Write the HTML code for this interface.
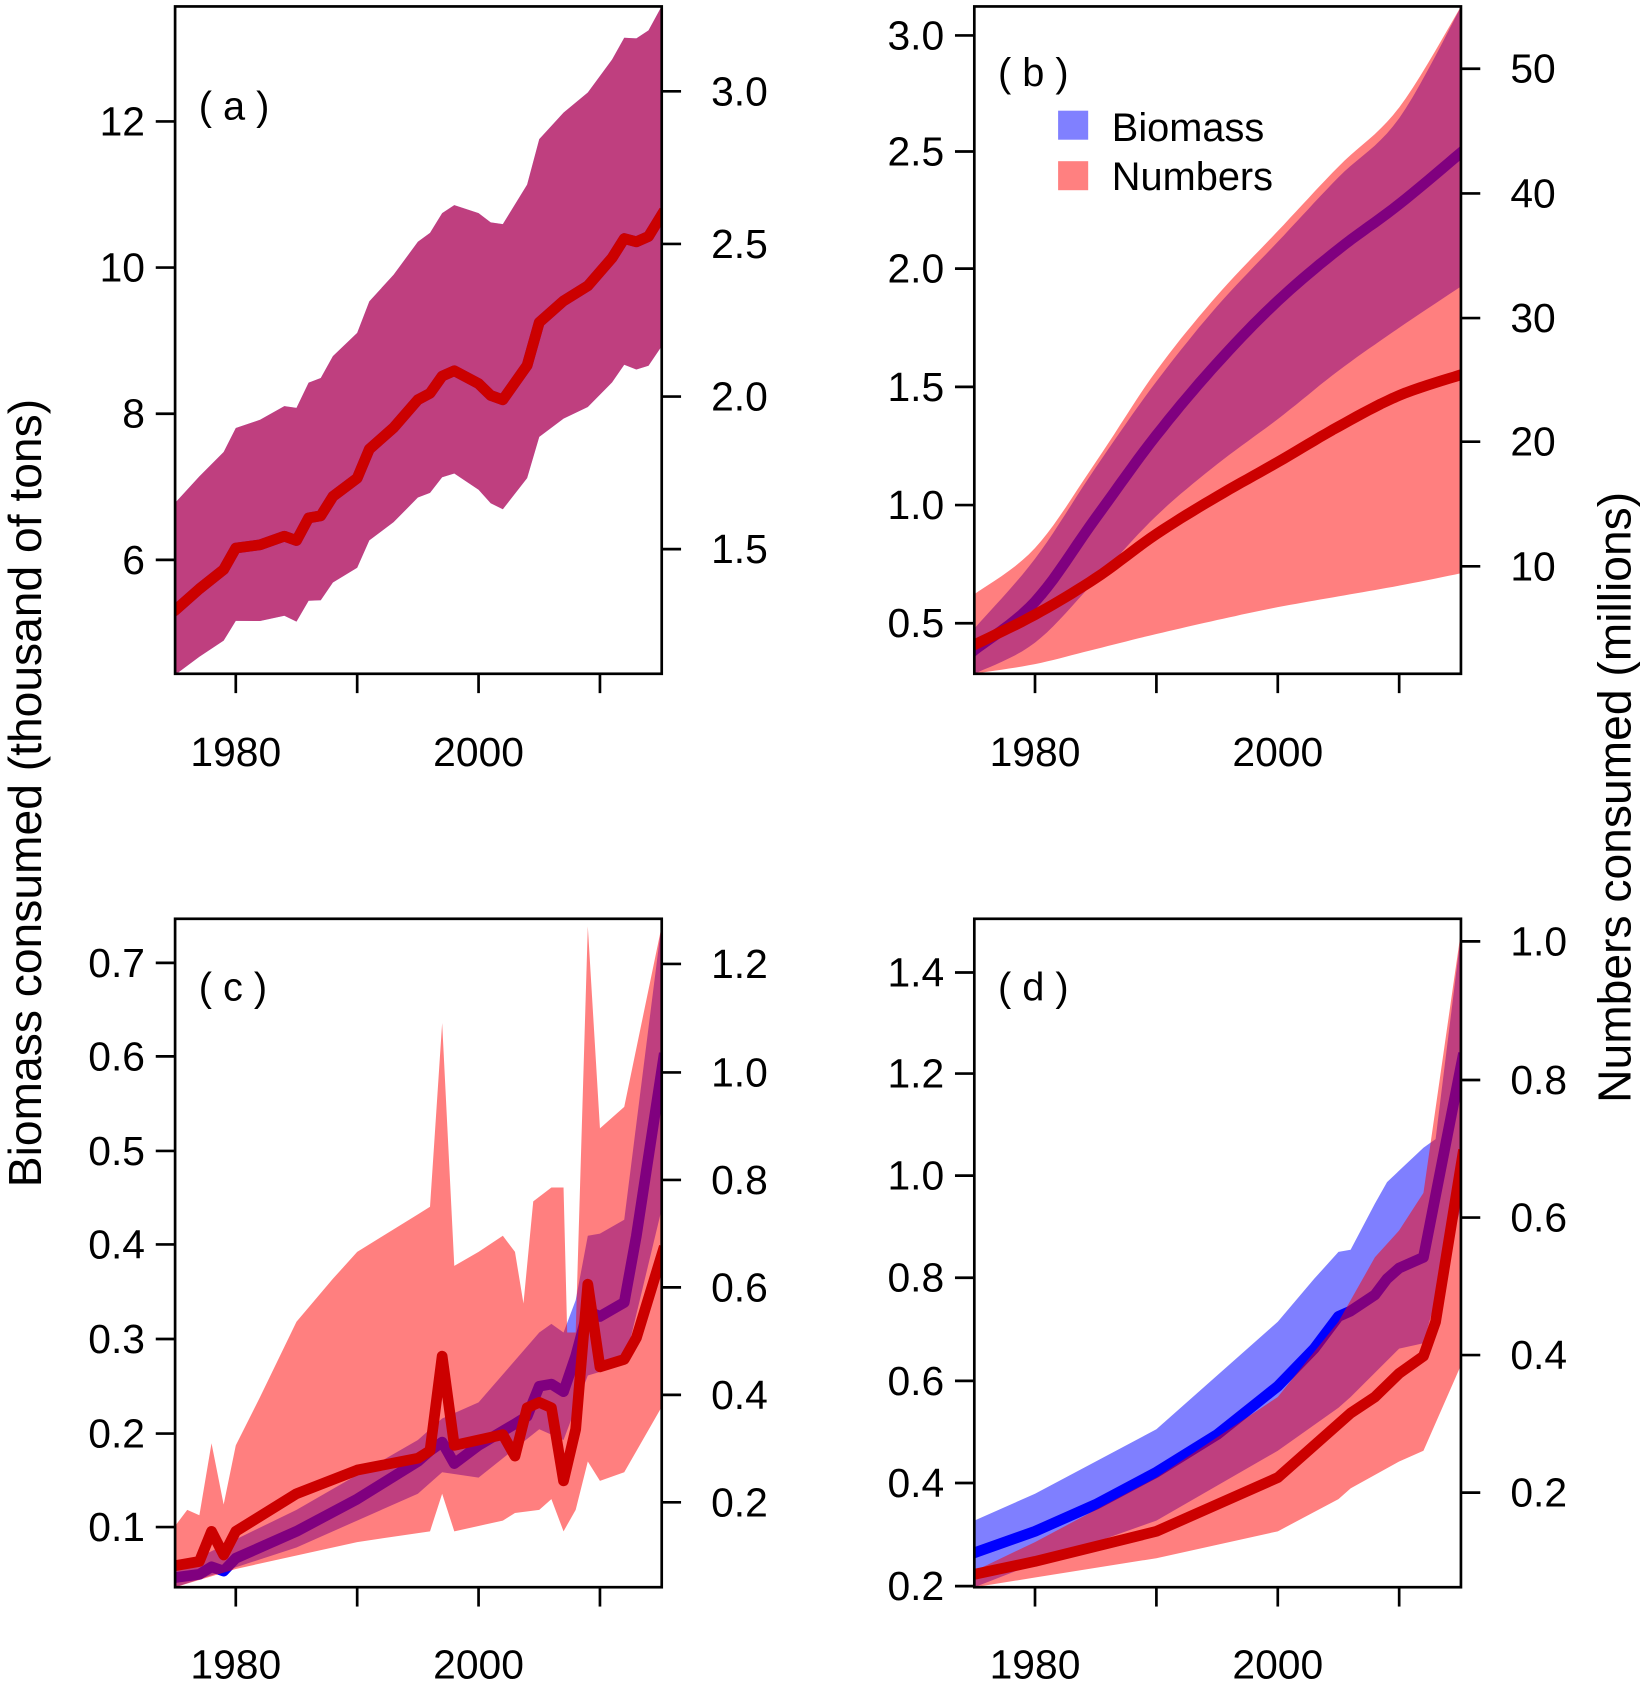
<!DOCTYPE html>
<html><head><meta charset="utf-8"><style>
html,body{margin:0;padding:0;background:#fff}
svg{display:block}
text{font-family:"Liberation Sans",Arial,sans-serif;fill:#000}
</style></head><body>
<svg id="s" width="1650" height="1685" viewBox="0 0 1536 1568" preserveAspectRatio="none" xmlns="http://www.w3.org/2000/svg">
<defs>
<clipPath id="ca"><rect x="163" y="6" width="453" height="621"/></clipPath>
<clipPath id="cb"><rect x="907" y="6" width="453" height="621"/></clipPath>
<clipPath id="cc"><rect x="163" y="855" width="453" height="622"/></clipPath>
<clipPath id="cd"><rect x="907" y="855" width="453" height="622"/></clipPath>
</defs>
<g id="g"></g>
<text transform="translate(38,738) rotate(-90)" text-anchor="middle" font-size="43">Biomass consumed (thousand of tons)</text>
<text transform="translate(1518,742) rotate(-90)" text-anchor="middle" font-size="43">Numbers consumed (millions)</text>
<rect x="985" y="103" width="28" height="27" fill="#8080ff"/>
<text x="1035" y="131" font-size="37">Biomass</text>
<rect x="985" y="150" width="28" height="27" fill="#ff8080"/>
<text x="1035" y="177" font-size="37">Numbers</text>
</svg>
<script>
const g=document.getElementById('g');let h='';
function X(L,yr){return L+(yr-1975)*11.3;}
function smooth(a){const o=[];for(let i=0;i<a.length-1;i++){const p0=a[Math.max(0,i-1)],p1=a[i],p2=a[i+1],p3=a[Math.min(a.length-1,i+2)];
 for(let t=0;t<1;t+=0.1){const t2=t*t,t3=t2*t;const f=k=>0.5*((2*p1[k])+(-p0[k]+p2[k])*t+(2*p0[k]-5*p1[k]+4*p2[k]-p3[k])*t2+(-p0[k]+3*p1[k]-3*p2[k]+p3[k])*t3);o.push([f(0),f(1)]);}}
 o.push(a[a.length-1]);return o;}
function pts(L,a){return a.map(p=>X(L,p[0]).toFixed(1)+','+p[1].toFixed(1)).join(' ');}
function band(L,up,lo,col,clip){
  const s=pts(L,up)+' '+pts(L,lo.slice().reverse());
  h+=`<polygon clip-path="url(#${clip})" points="${s}" fill="${col}"/>`;}
function line(L,a,col,clip){h+=`<polyline clip-path="url(#${clip})" points="${pts(L,a)}" fill="none" stroke="${col}" stroke-width="10" stroke-linejoin="round"/>`;}
const B='rgba(0,0,255,0.5)',R='rgba(255,0,0,0.5)';
function axes(L,T,Bm,left,right,xl){
  const Rr=L+453;
  h+=`<rect x="${L}" y="${T}" width="453" height="${Bm-T}" fill="none" stroke="#000" stroke-width="2.5"/>`;
  left.forEach(([v,y])=>{h+=`<line x1="${L}" x2="${L-18}" y1="${y}" y2="${y}" stroke="#000" stroke-width="2.5"/><text x="${L-28}" y="${y+13}" font-size="38" text-anchor="end">${v}</text>`;});
  right.forEach(([v,y])=>{h+=`<line x1="${Rr}" x2="${Rr+18}" y1="${y}" y2="${y}" stroke="#000" stroke-width="2.5"/><text x="${Rr+46}" y="${y+13}" font-size="38">${v}</text>`;});
  [1980,1990,2000,2010].forEach(yr=>{const x=X(L,yr);h+=`<line x1="${x}" x2="${x}" y1="${Bm}" y2="${Bm+18}" stroke="#000" stroke-width="2.5"/>`;
   if(yr==1980||yr==2000)h+=`<text x="${x}" y="${xl}" font-size="38" text-anchor="middle">${yr}</text>`;});
}
// Panel a
const ma=[[1974,575],[1975,568],[1977,548],[1979,530],[1980,510],[1982,507],[1984,499],[1985,503],[1986,482],[1987,480],[1988,462],[1990,445],[1991,418],[1993,398],[1995,372],[1996,366],[1997,350],[1998,345],[2000,357],[2001,368],[2002,372],[2004,340],[2005,300],[2007,280],[2009,266],[2011,240],[2012,222],[2013,225],[2014,220],[2015.3,196]];
const ua=ma.map(p=>[p[0],p[1]-(100+(p[0]-1975)*2.35)]);
const la=ma.map(p=>[p[0],p[1]+(60+(p[0]-1975)*1.55)]);
band(163,ua,la,B,'ca');line(163,ma,'#0000ff','ca');band(163,ua,la,R,'ca');line(163,ma,'#cc0000','ca');
axes(163,6,627,[[6,521],[8,385],[10,249],[12,113]],[['1.5',511],['2.0',369],['2.5',227],['3.0',85]],713);
h+=`<text x="185" y="111" font-size="37">( a )</text>`;
// Panel b
const ys=[1974,1975,1980,1985,1990,1995,2000,2005,2010,2015.3];
function mk(v){return smooth(ys.map((y,i)=>[y,v[i]]));}
const bm=mk([615,605,560,482,405,338,280,232,190,140]);
const bu=mk([600,585,520,435,355,285,225,165,110,2]);
const bl=mk([630,627,598,540,480,432,390,345,305,265]);
const nm=mk([605,600,572,538,497,462,430,397,368,348]);
const nu=mk([560,553,510,430,345,275,215,155,100,2]);
const nl=mk([630,627,618,604,590,577,565,555,545,533]);
band(907,bu,bl,B,'cb');line(907,bm,'#0000ff','cb');band(907,nu,nl,R,'cb');line(907,nm,'#cc0000','cb');
axes(907,6,627,[['0.5',580],['1.0',470],['1.5',360],['2.0',250],['2.5',141],['3.0',33]],[[10,527],[20,411],[30,296],[40,180],[50,64]],713);
h+=`<text x="929" y="80" font-size="37">( b )</text>`;
// Panel c
const cbm=[[1974,1470],[1975,1468],[1977,1465],[1978,1458],[1979,1462],[1980,1450],[1985,1425],[1990,1395],[1995,1360],[1996,1350],[1997,1342],[1998,1362],[2000,1345],[2003,1325],[2004,1318],[2005,1290],[2006,1288],[2007,1295],[2008,1262],[2009,1220],[2010,1225],[2012,1212],[2013,1150],[2015.3,980]];
const cbu=[[1974,1465],[1975,1460],[1985,1405],[1995,1340],[1997,1320],[2000,1305],[2005,1240],[2006,1232],[2007,1240],[2008,1210],[2009,1150],[2010,1148],[2012,1135],[2015.3,840]];
const cbl=[[1974,1480],[1975,1477],[1985,1440],[1995,1390],[1997,1370],[2000,1375],[2005,1330],[2007,1340],[2009,1280],[2012,1270],[2015.3,1115]];
const cnu=[[1974,1430],[1975,1420],[1976,1405],[1977,1410],[1978,1343],[1979,1400],[1980,1345],[1982,1300],[1985,1230],[1988,1190],[1990,1165],[1995,1130],[1996,1123],[1997,952],[1998,1178],[2000,1165],[2002,1150],[2003,1165],[2003.7,1213],[2004.5,1118],[2006,1105],[2007,1105],[2007.3,1240],[2008,1240],[2009,862],[2010,1050],[2012,1030],[2015.3,850]];
const cnl=[[1974,1480],[1975,1477],[1980,1460],[1990,1435],[1996,1425],[1997,1390],[1998,1425],[2000,1420],[2002,1415],[2003,1408],[2005,1405],[2006,1395],[2007,1425],[2008,1405],[2009,1360],[2010,1378],[2012,1370],[2015.3,1305]];
const cnm=[[1974,1460],[1975,1457],[1977,1453],[1978,1425],[1979,1447],[1980,1425],[1985,1390],[1990,1368],[1995,1357],[1996,1350],[1997,1262],[1998,1345],[2000,1340],[2002,1335],[2003,1355],[2004,1310],[2005,1305],[2006,1310],[2007,1378],[2008,1330],[2009,1195],[2010,1272],[2012,1265],[2013,1245],[2015.3,1160]];
band(163,cbu,cbl,B,'cc');line(163,cbm,'#0000ff','cc');band(163,cnu,cnl,R,'cc');line(163,cnm,'#cc0000','cc');
axes(163,855,1477,[['0.1',1421],['0.2',1334],['0.3',1246],['0.4',1158],['0.5',1071],['0.6',983],['0.7',896]],[['0.2',1398],['0.4',1298],['0.6',1198],['0.8',1098],['1.0',998],['1.2',897]],1562);
h+=`<text x="185" y="931" font-size="37">( c )</text>`;
// Panel d
const dbm=[[1974,1450],[1975,1445],[1980,1425],[1985,1400],[1990,1370],[1995,1335],[2000,1290],[2003,1255],[2005,1225],[2006,1220],[2008,1205],[2009,1190],[2010,1180],[2012,1170],[2015.3,980]];
const dbu=[[1974,1420],[1975,1415],[1980,1390],[1990,1330],[2000,1230],[2003,1190],[2005,1165],[2006,1163],[2008,1120],[2009,1100],[2012,1068],[2013,1060],[2015.3,850]];
const dbl=[[1974,1480],[1975,1477],[1980,1455],[1990,1415],[2000,1350],[2005,1310],[2006,1300],[2010,1255],[2012,1250],[2015.3,1115]];
const dnu=[[1974,1466],[1975,1462],[1980,1435],[1990,1375],[2000,1300],[2005,1230],[2008,1170],[2010,1145],[2012,1110],[2015.3,850]];
const dnl=[[1974,1480],[1975,1477],[1980,1468],[1990,1450],[2000,1425],[2005,1395],[2006,1385],[2010,1360],[2012,1350],[2015.3,1265]];
const dnm=[[1974,1468],[1975,1465],[1980,1453],[1990,1425],[2000,1375],[2005,1325],[2006,1315],[2008,1300],[2010,1278],[2012,1262],[2013,1230],[2015.3,1070]];
band(907,dbu,dbl,B,'cd');line(907,dbm,'#0000ff','cd');band(907,dnu,dnl,R,'cd');line(907,dnm,'#cc0000','cd');
axes(907,855,1477,[['0.2',1476],['0.4',1380],['0.6',1285],['0.8',1189],['1.0',1094],['1.2',999],['1.4',905]],[['0.2',1389],['0.4',1261],['0.6',1133],['0.8',1005],['1.0',876]],1562);
h+=`<text x="929" y="931" font-size="37">( d )</text>`;
g.innerHTML=h;
</script>
</body></html>
